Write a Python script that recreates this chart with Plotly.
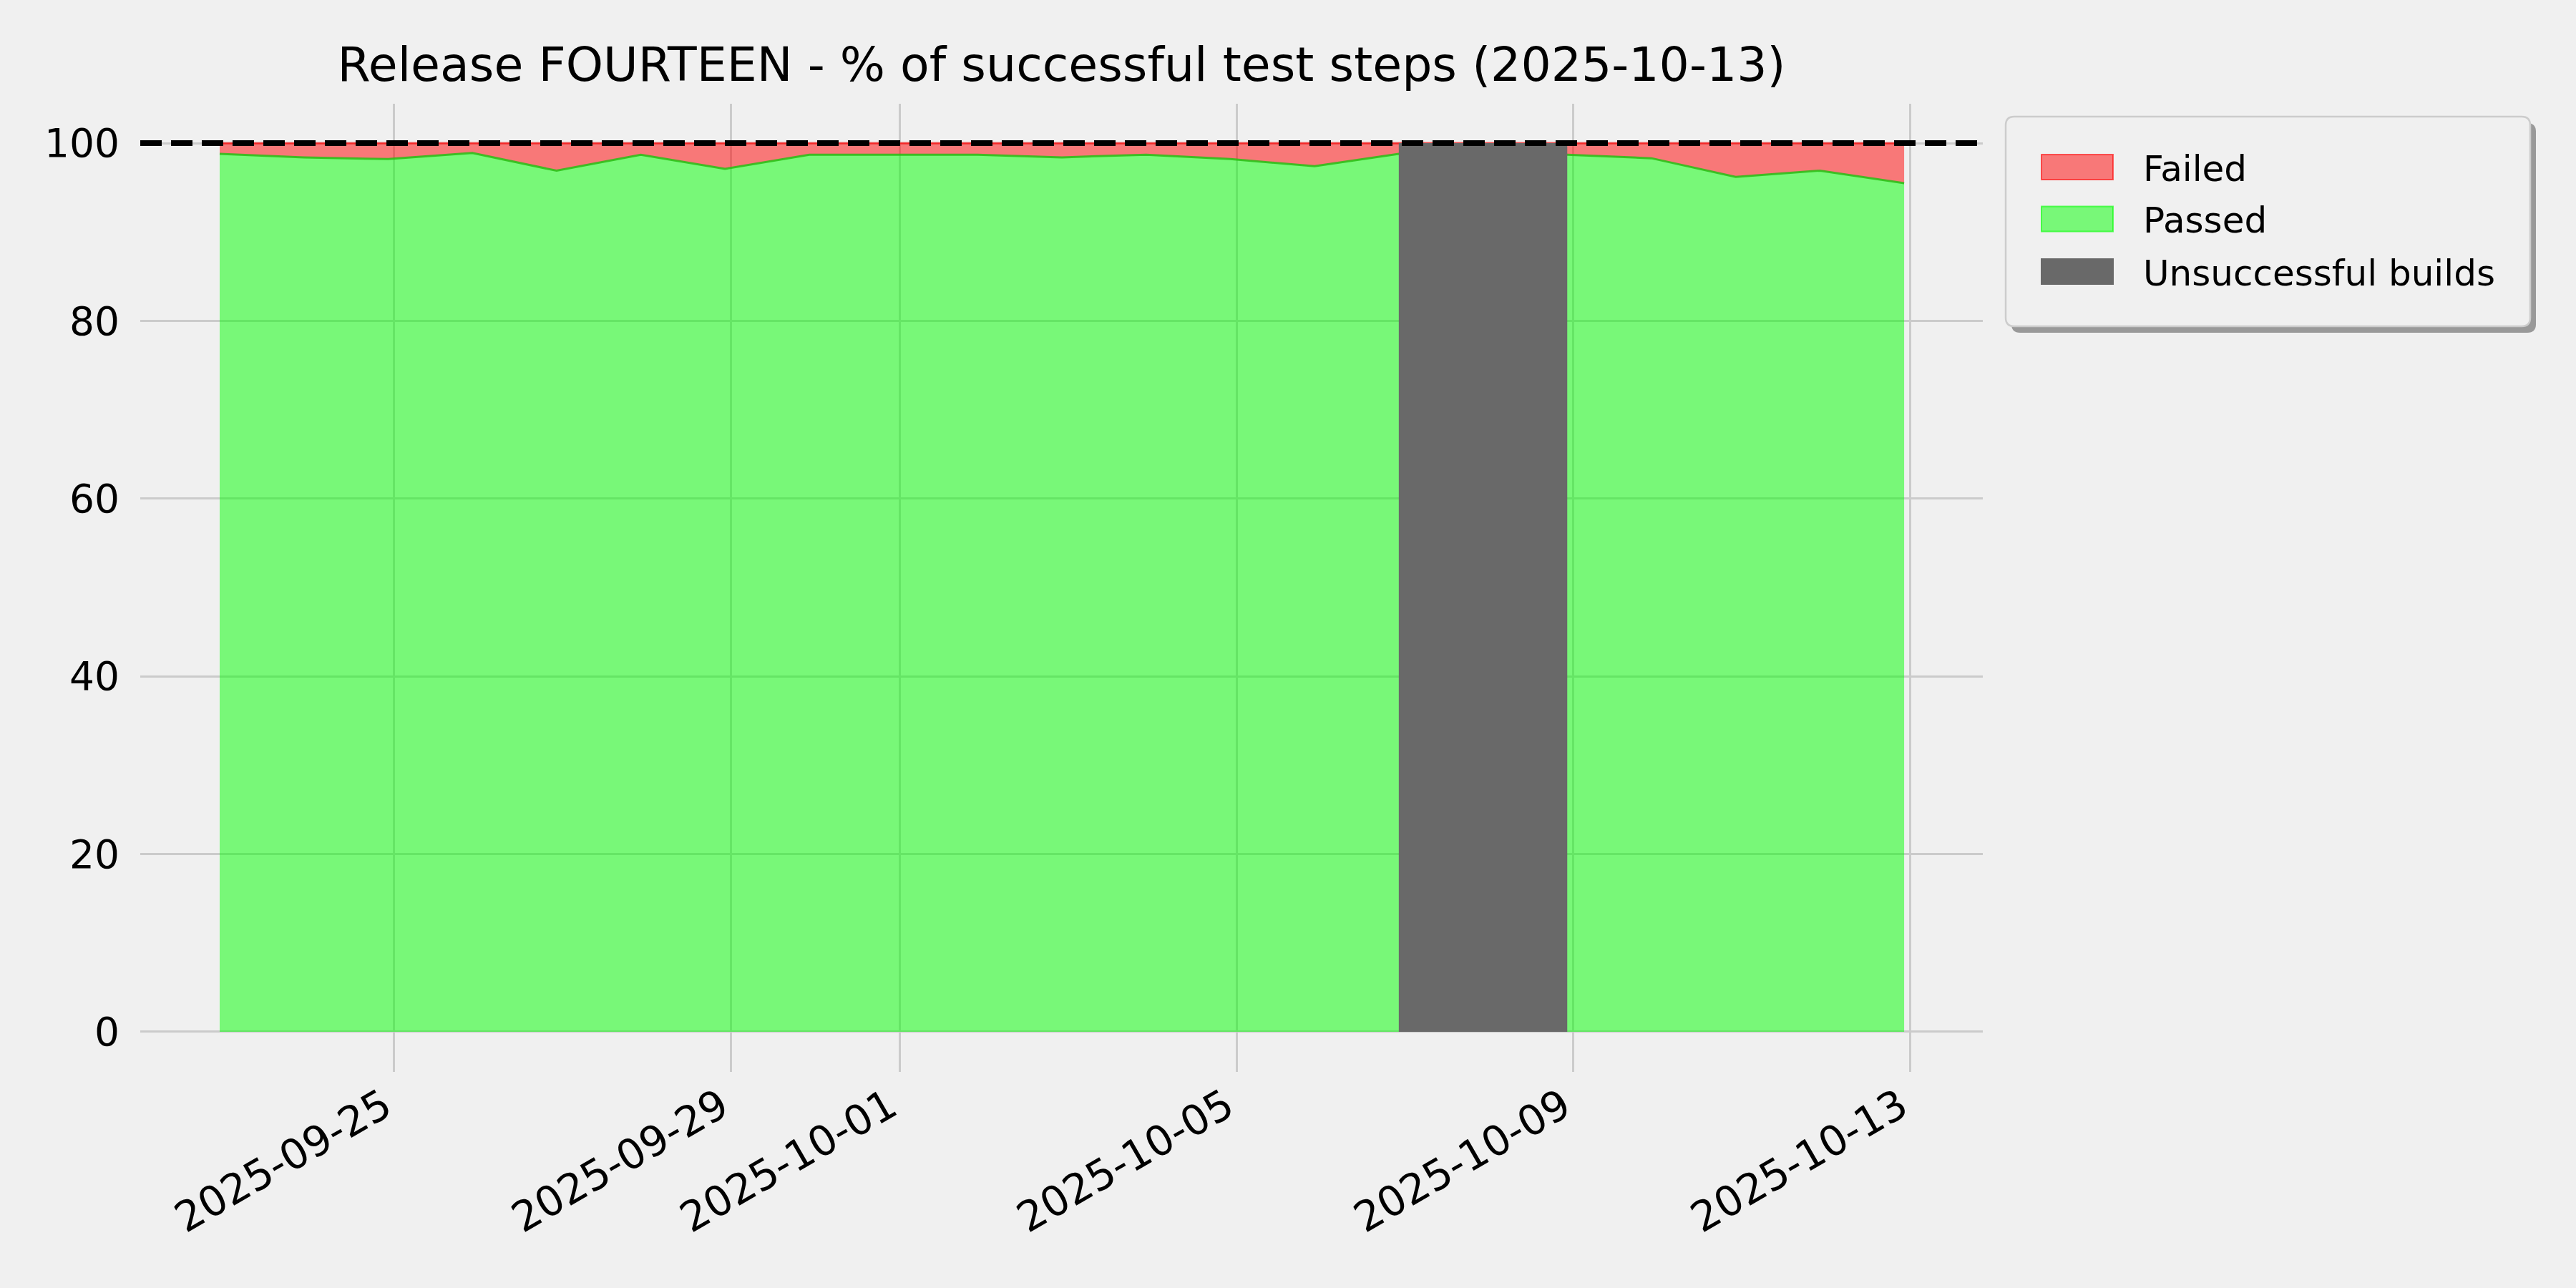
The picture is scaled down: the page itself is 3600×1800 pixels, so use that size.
import plotly.graph_objects as go
import pandas as pd

# ---------------- data ----------------
# build timestamps (late evening of the day before each nominal date)
dates = ["2025-09-22 22:15", "2025-09-23 22:15", "2025-09-24 22:15", "2025-09-25 22:15",
         "2025-09-26 22:15", "2025-09-27 22:15", "2025-09-28 22:15", "2025-09-29 22:15",
         "2025-09-30 22:15", "2025-10-01 22:15", "2025-10-02 22:15", "2025-10-03 22:15",
         "2025-10-04 22:15", "2025-10-05 22:15", "2025-10-06 22:15",
         "2025-10-08 22:15", "2025-10-09 22:15", "2025-10-10 22:15", "2025-10-11 22:15",
         "2025-10-12 22:15"]
passed_pct = [98.8, 98.4, 98.2, 98.9, 96.9, 98.7, 97.1, 98.7, 98.7, 98.7,
              98.4, 98.7, 98.2, 97.4, 98.8, 98.7, 98.3, 96.2, 96.9, 95.5]
failed_pct = [1.2, 1.6, 1.8, 1.1, 3.1, 1.3, 2.9, 1.3, 1.3, 1.3,
              1.6, 1.3, 1.8, 2.6, 1.2, 1.3, 1.7, 3.8, 3.1, 4.5]
unsuccessful_start = ["2025-10-06 22:15"]
unsuccessful_end = ["2025-10-08 22:15"]
target_pct = 100
series_names = ["Failed", "Passed", "Unsuccessful builds"]
x_tick_dates = ["2025-09-25", "2025-09-29", "2025-10-01", "2025-10-05", "2025-10-09", "2025-10-13"]
y_ticks = [0, 20, 40, 60, 80, 100]
title_text = "Release FOURTEEN - % of successful test steps (2025-10-13)"

# ---------------- styling ----------------
W, H = 3600, 1800
L, R, T, B = 196, 2771, 145, 1498
BG = "#f0f0f0"
FONT = "DejaVu Sans"
GREEN_FILL = "rgba(0,255,0,0.5)"
RED_FILL = "rgba(255,0,0,0.5)"
GRAY = "#696969"


def px_x(p):
    return (p - L) / (R - L)


def px_y(p):
    return (B - p) / (B - T)


fig = go.Figure()

# Passed (stacked from zero)
fig.add_trace(go.Scatter(
    x=pd.to_datetime(dates), y=passed_pct, name=series_names[1],
    stackgroup="one", mode="lines",
    line=dict(color="rgba(40,190,20,0.85)", width=3),
    fillcolor=GREEN_FILL, showlegend=False, hoverinfo="skip"))

# Failed (stacked on top of passed)
fig.add_trace(go.Scatter(
    x=pd.to_datetime(dates), y=failed_pct, name=series_names[0],
    stackgroup="one", mode="lines",
    line=dict(color="rgba(255,0,0,0.6)", width=3),
    fillcolor=RED_FILL, showlegend=False, hoverinfo="skip"))

# Unsuccessful builds spans
for s, e in zip(unsuccessful_start, unsuccessful_end):
    s_d, e_d = pd.Timestamp(s), pd.Timestamp(e)
    fig.add_trace(go.Scatter(
        x=[s_d, s_d, e_d, e_d, s_d], y=[0, target_pct, target_pct, 0, 0],
        name=series_names[2], mode="lines", fill="toself",
        fillcolor=GRAY, line=dict(color=GRAY, width=0),
        showlegend=False, hoverinfo="skip"))

# target dashed line
fig.add_shape(type="line", xref="paper", x0=0, x1=1, yref="y",
              y0=target_pct, y1=target_pct, layer="above",
              line=dict(color="black", width=8, dash="30px,13px"))


# ---------------- legend (matplotlib-like, with shadow) ----------------
def rounded_rect_path(x0, y0, x1, y1, r):
    X = lambda v: f"{px_x(v):.6f}"
    Y = lambda v: f"{px_y(v):.6f}"
    pts = [
        f"M {X(x0 + r)},{Y(y0)}",
        f"L {X(x1 - r)},{Y(y0)}",
        f"Q {X(x1)},{Y(y0)} {X(x1)},{Y(y0 + r)}",
        f"L {X(x1)},{Y(y1 - r)}",
        f"Q {X(x1)},{Y(y1)} {X(x1 - r)},{Y(y1)}",
        f"L {X(x0 + r)},{Y(y1)}",
        f"Q {X(x0)},{Y(y1)} {X(x0)},{Y(y1 - r)}",
        f"L {X(x0)},{Y(y0 + r)}",
        f"Q {X(x0)},{Y(y0)} {X(x0 + r)},{Y(y0)}",
        "Z",
    ]
    return " ".join(pts)


LX0, LY0, LX1, LY1 = 2803, 163, 3536, 456
fig.add_shape(type="path", xref="paper", yref="paper", layer="above",
              path=rounded_rect_path(LX0 + 8, LY0 + 9, LX1 + 8, LY1 + 9, 12),
              fillcolor="#999999", line=dict(width=0))
fig.add_shape(type="path", xref="paper", yref="paper", layer="above",
              path=rounded_rect_path(LX0, LY0, LX1, LY1, 12),
              fillcolor=BG, line=dict(color="#cccccc", width=2.5))

legend_styles = [
    (RED_FILL, "rgba(255,0,0,0.6)"),
    (GREEN_FILL, "rgba(0,255,0,0.6)"),
    (GRAY, GRAY),
]
row_centers = [233.5, 306, 379.5]
for name, (fc, lc), cy in zip(series_names, legend_styles, row_centers):
    fig.add_shape(type="rect", xref="paper", yref="paper", layer="above",
                  x0=px_x(2853), x1=px_x(2953), y0=px_y(cy - 17.5), y1=px_y(cy + 17.5),
                  fillcolor=fc, line=dict(color=lc, width=2))
    fig.add_annotation(xref="paper", yref="paper", x=px_x(2993), y=px_y(cy + 2),
                       xanchor="left", yanchor="middle", showarrow=False,
                       text=name, font=dict(family=FONT, size=50, color="black"))

# ---------------- layout ----------------
fig.update_layout(
    width=W, height=H,
    margin=dict(l=L, r=W - R, t=T, b=H - B, pad=0),
    paper_bgcolor=BG, plot_bgcolor=BG,
    font=dict(family=FONT, size=55, color="black"),
    title=dict(text=title_text, x=px_x((L + R) / 2), xref="paper", xanchor="center",
               y=1 - 90 / H, yref="container", yanchor="middle",
               font=dict(family=FONT, size=66.5, color="black")),
    showlegend=False,
)
fig.update_xaxes(
    type="date",
    range=["2025-09-21 23:37", "2025-10-13 20:40"],
    tickvals=pd.to_datetime(x_tick_dates), tickformat="%Y-%m-%d",
    tickangle=-30, ticks="", ticklabelstandoff=2, ticklabelshift=-14,
    showgrid=True, gridcolor="#cbcbcb", gridwidth=3.3,
    zeroline=False, showline=False,
    tickfont=dict(family=FONT, size=58, color="black"),
)
fig.update_yaxes(
    range=[-4.51, 104.43],
    tickvals=y_ticks, ticks="", ticklabelstandoff=28,
    showgrid=True, gridcolor="#cbcbcb", gridwidth=3.3,
    zeroline=False, showline=False,
    tickfont=dict(family=FONT, size=55, color="black"),
)

fig.write_html(
    "out.html",
    config={"displayModeBar": False},
    post_script="document.body.style.margin='0';document.body.style.background='#f0f0f0';",
)
